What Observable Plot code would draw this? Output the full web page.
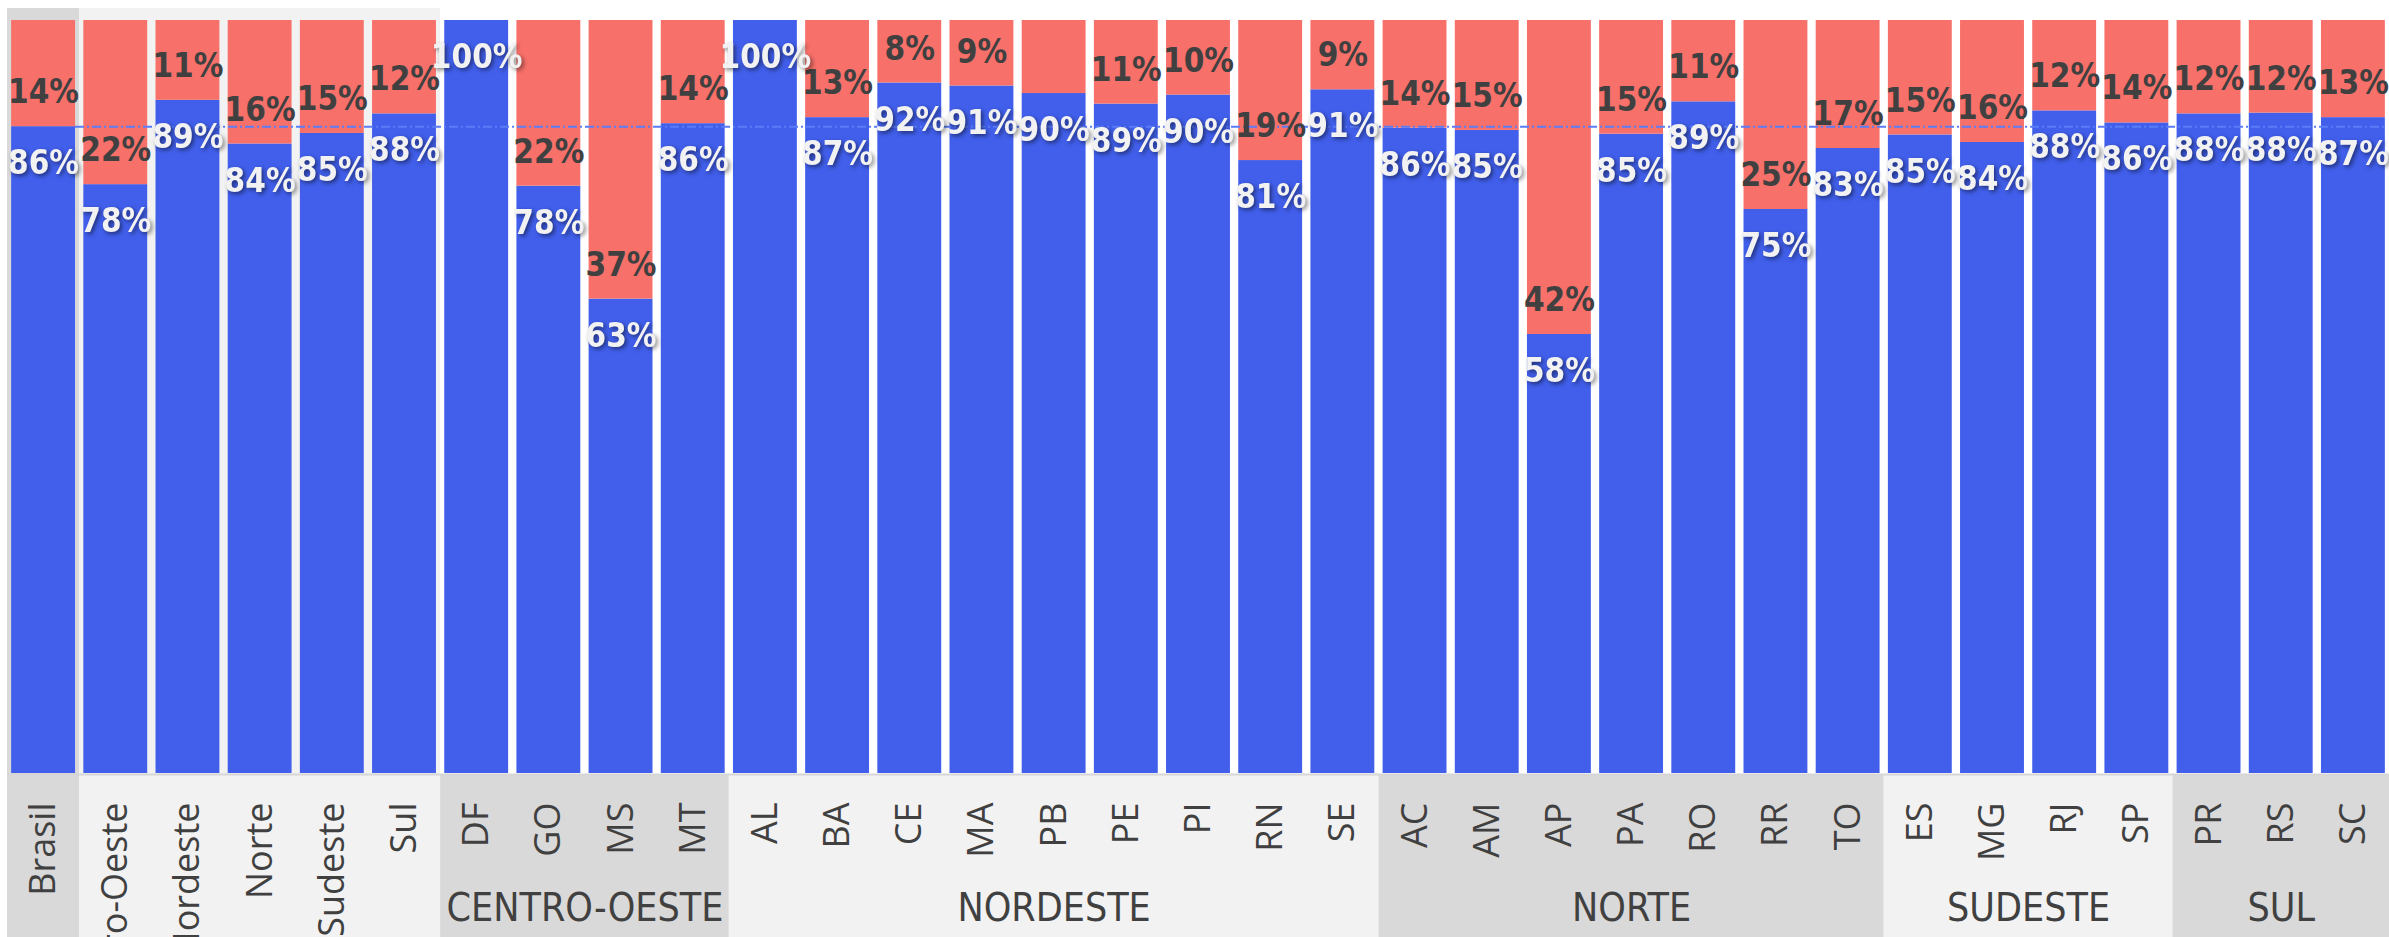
<!DOCTYPE html>
<html>
<head>
<meta charset="utf-8">
<script src="https://cdn.jsdelivr.net/npm/d3@7"></script>
<script src="https://cdn.jsdelivr.net/npm/@observablehq/plot@0.6"></script>
<style>
  html, body { margin: 0; padding: 0; background: #ffffff; overflow: hidden; }
  #chart svg { display: block; }
</style>
</head>
<body>
<div id="chart"></div>
<script>
// ---- data ----
const categories = ["Brasil","Centro-Oeste","Nordeste","Norte","Sudeste","Sul",
  "DF","GO","MS","MT",
  "AL","BA","CE","MA","PB","PE","PI","RN","SE",
  "AC","AM","AP","PA","RO","RR","TO",
  "ES","MG","RJ","SP",
  "PR","RS","SC"];
const blueValues = [85.9,78.2,89.4,83.6,85.0,87.6,
  100,78.0,63.0,86.3,
  100,87.1,91.7,91.3,90.3,88.9,90.1,81.4,90.8,
  85.7,85.4,58.3,84.9,89.2,74.9,83.0,
  84.8,83.8,88.0,86.4,
  87.6,87.7,87.1];
const redValues = [14.1,21.8,10.6,16.4,15.0,12.4,
  0,22.0,37.0,13.7,
  0,12.9,8.3,8.7,9.7,11.1,9.9,18.6,9.2,
  14.3,14.6,41.7,15.1,10.8,25.1,17.0,
  15.2,16.2,12.0,13.6,
  12.4,12.3,12.9];
const hiddenRedLabels = ["PB"];
const groupNames = ["", "", "CENTRO-OESTE", "NORDESTE", "NORTE", "SUDESTE", "SUL"];
const groupSizes = [1, 5, 4, 9, 7, 4, 3];
const summaryGroupCount = 2;      // Brasil and the regions: panels run the full height
const brasilAverage = blueValues[0];

// ---- styles ----
const BLUE = "#415FEB";
const RED = "#F8706A";
const DARK_PANEL = "#d9d9d9";
const LIGHT_PANEL = "#f2f2f2";
const TEXT = "#404040";
const PCT_FONT = "'Liberation Sans Narrow', 'DejaVu Sans Condensed', sans-serif";
const AXIS_FONT = "'Open Sans', sans-serif";
const GROUP_FONT = "'Liberation Sans Narrow', 'DejaVu Sans Condensed', sans-serif";

const rows = categories.map((cat, i) => ({i, cat, blue: blueValues[i], red: redValues[i]}));
let start = 0;
const groups = groupSizes.map((n, k) => {
  const g = {k, name: groupNames[k], start, end: start + n};
  start += n;
  return g;
});

const inset = 4.15;

const chart = Plot.plot({
  width: 2389,
  height: 937,
  marginLeft: 7,
  marginRight: 0,
  marginTop: 20,
  marginBottom: 164,
  x: {domain: [0, categories.length], axis: null},
  y: {domain: [0, 100], axis: null},
  color: {type: "identity"},
  style: {background: "#ffffff", overflow: "visible"},
  marks: [
    // full-height panels (Brasil, regions)
    Plot.rect(groups.filter(g => g.k < summaryGroupCount), {
      x1: "start", x2: "end", y1: 0, y2: 100,
      fill: g => g.k % 2 === 0 ? DARK_PANEL : LIGHT_PANEL,
      insetTop: -12, insetBottom: -164
    }),
    // label-area panels for the state groups
    Plot.rect(groups.filter(g => g.k >= summaryGroupCount), {
      x1: "start", x2: "end", y1: 0, y2: 0,
      fill: g => g.k % 2 === 0 ? DARK_PANEL : LIGHT_PANEL,
      insetTop: 2, insetBottom: -164
    }),
    Plot.ruleY([0], {stroke: "#d6d6d6", strokeWidth: 2, dy: 1}),
    // stacked bars
    Plot.rectY(rows, {
      x1: d => d.i, x2: d => d.i + 1, y1: 0, y2: "blue",
      fill: BLUE, insetLeft: inset, insetRight: inset
    }),
    Plot.rectY(rows.filter(d => d.red > 0), {
      x1: d => d.i, x2: d => d.i + 1, y1: "blue", y2: d => d.blue + d.red,
      fill: RED, insetLeft: inset, insetRight: inset
    }),
    // Brasil reference line
    Plot.ruleY([brasilAverage], {
      x1: 1, x2: categories.length,
      insetLeft: -inset, insetRight: inset,
      stroke: "#5a7cf7", strokeWidth: 2, strokeDasharray: "9,3,2,3"
    }),
    // red labels
    Plot.text(rows.filter(d => d.red > 0 && !hiddenRedLabels.includes(d.cat)), {
      x: d => d.i + 0.5, y: "blue", dy: -34,
      text: d => Math.round(d.red) + "%",
      fill: TEXT, fontSize: 33, fontWeight: "bold", fontFamily: PCT_FONT
    }),
    // blue labels
    Plot.text(rows, {
      x: d => d.i + 0.5, y: "blue", dy: 37,
      text: d => Math.round(d.blue) + "%",
      fill: "#f2f2f2", fontSize: 33, fontWeight: "bold", fontFamily: PCT_FONT
    }),
    // category labels (rotated)
    Plot.text(rows, {
      x: d => d.i + 0.5, y: 0, dy: 29,
      text: "cat", rotate: -90, textAnchor: "end",
      fill: TEXT, fontSize: 36, fontFamily: AXIS_FONT
    }),
    // group labels
    Plot.text(groups.filter(g => g.name), {
      x: g => (g.start + g.end) / 2, y: 0, dy: 135,
      text: "name",
      fill: TEXT, fontSize: 39, fontFamily: GROUP_FONT
    })
  ]
});

d3.select(chart).selectAll('g[aria-label="text"][fill="#f2f2f2"]')
  .style("filter", "drop-shadow(2px 2px 2px rgba(0,0,0,0.5))");

document.getElementById("chart").appendChild(chart);
</script>
</body>
</html>
